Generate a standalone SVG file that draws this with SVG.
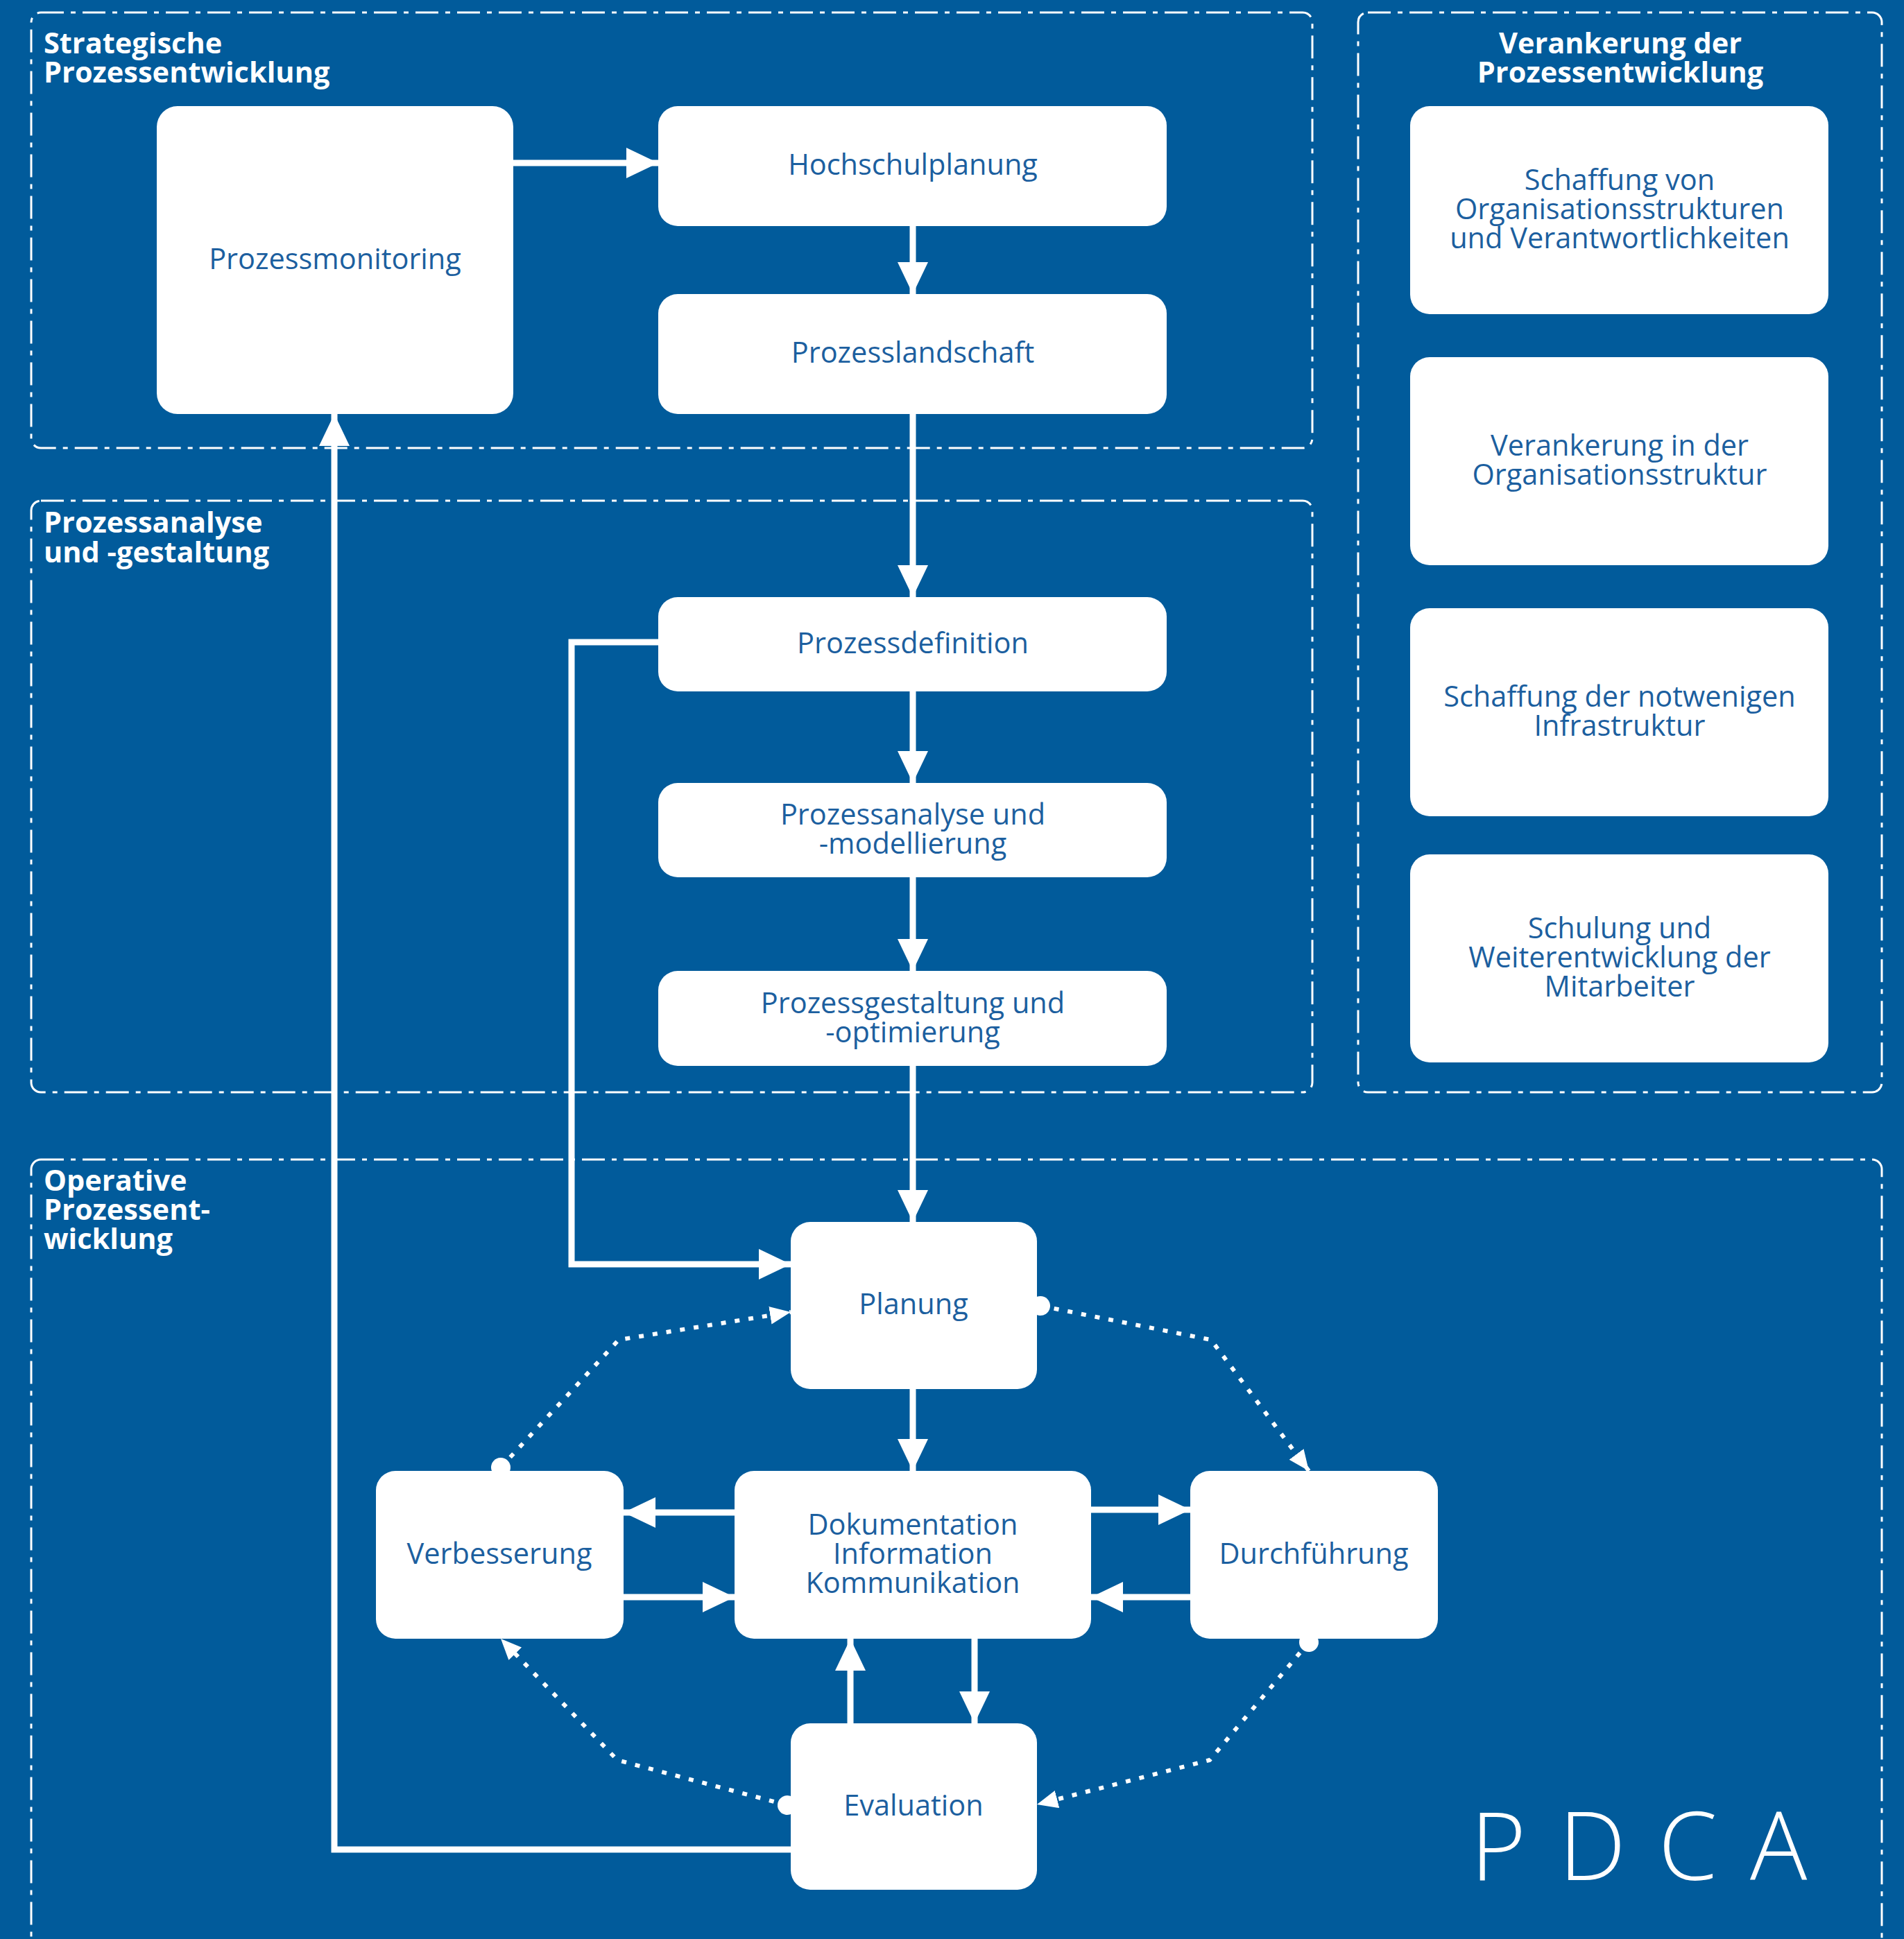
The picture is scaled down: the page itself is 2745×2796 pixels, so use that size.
<svg xmlns="http://www.w3.org/2000/svg" width="2745" height="2796" viewBox="0 0 2745 2796">
<defs>
<style>
.bg{fill:#015B9B}
.grp{fill:none;stroke:#fff;stroke-width:3;stroke-dasharray:33 10 7 10}
.title{font-family:"Open Sans","DejaVu Sans",sans-serif;font-weight:700;font-size:41.5px;fill:#fff}
.box{fill:#fff}
.lbl{font-family:"Open Sans","DejaVu Sans",sans-serif;font-size:41.5px;fill:#1C5F9F;text-anchor:middle}
.con{fill:none;stroke:#fff;stroke-width:9;marker-end:url(#arr)}
.dot{fill:none;stroke:#fff;stroke-width:6;stroke-dasharray:7 13;stroke-linejoin:round;marker-start:url(#circ);marker-end:url(#arrs)}
.pdca{font-family:"Open Sans","DejaVu Sans",sans-serif;font-weight:300;font-size:137px;fill:#fff;letter-spacing:47px}
</style>
<marker id="arr" markerUnits="userSpaceOnUse" viewBox="0 0 46 44" refX="46" refY="22" markerWidth="46" markerHeight="44" orient="auto">
<path d="M0,0 L46,22 L0,44 Z" fill="#fff"/>
</marker>
<marker id="arrs" markerUnits="userSpaceOnUse" viewBox="0 0 30 26" refX="30" refY="13" markerWidth="30" markerHeight="26" orient="auto">
<path d="M0,0 L30,13 L0,26 Z" fill="#fff"/>
</marker>
<marker id="circ" markerUnits="userSpaceOnUse" viewBox="0 0 30 30" refX="15" refY="15" markerWidth="30" markerHeight="30" orient="auto">
<circle cx="15" cy="15" r="14" fill="#fff"/>
</marker>
</defs>
<rect class="bg" x="0" y="0" width="2745" height="2796"/>

<g id="groups">
<g id="grp-strategisch">
<rect class="grp" x="45" y="18" width="1847" height="628" rx="14"/>
<text class="title" x="63" y="77">Strategische</text>
<text class="title" x="63" y="119">Prozessentwicklung</text>
</g>
<g id="grp-analyse">
<rect class="grp" x="45" y="722" width="1847" height="853" rx="14"/>
<text class="title" x="63" y="768">Prozessanalyse</text>
<text class="title" x="63" y="811">und -gestaltung</text>
</g>
<g id="grp-verankerung">
<rect class="grp" x="1958" y="18" width="755" height="1557" rx="14"/>
<text class="title" x="2336" y="77" text-anchor="middle">Verankerung der</text>
<text class="title" x="2336" y="119" text-anchor="middle">Prozessentwicklung</text>
</g>
<g id="grp-operativ">
<rect class="grp" x="45" y="1672" width="2668" height="1200" rx="14"/>
<text class="title" x="63" y="1717">Operative</text>
<text class="title" x="63" y="1759">Prozessent-</text>
<text class="title" x="63" y="1801">wicklung</text>
</g>
</g>

<g id="connectors">
<path class="con" d="M740,235 L949,235"/>
<path class="con" d="M1316,326 L1316,424"/>
<path class="con" d="M1316,597 L1316,861"/>
<path class="con" d="M1316,997 L1316,1129"/>
<path class="con" d="M1316,1265 L1316,1400"/>
<path class="con" d="M1316,1537 L1316,1762"/>
<path class="con" d="M949,926 L824,926 L824,1823 L1140,1823"/>
<path class="con" d="M1140,2667 L482,2667 L482,597"/>
<path class="con" d="M1316,2003 L1316,2121"/>
<path class="con" d="M1059,2181 L899,2181"/>
<path class="con" d="M899,2303 L1059,2303"/>
<path class="con" d="M1573,2177 L1716,2177"/>
<path class="con" d="M1716,2303 L1573,2303"/>
<path class="con" d="M1226,2485 L1226,2363"/>
<path class="con" d="M1405,2363 L1405,2485"/>
<path class="dot" d="M1500,1883 L1746,1932 L1887,2121"/>
<path class="dot" d="M1887,2368 L1744,2538 L1495,2602"/>
<path class="dot" d="M1135,2603 L890,2538 L722,2363"/>
<path class="dot" d="M722,2116 L892,1932 L1140,1892"/>
</g>

<g id="n-prozessmonitoring"><rect class="box" x="226" y="153" width="514" height="444" rx="30"/><text class="lbl" x="483" y="388">Prozessmonitoring</text></g>
<g id="n-hochschulplanung"><rect class="box" x="949" y="153" width="733" height="173" rx="28"/><text class="lbl" x="1316" y="252">Hochschulplanung</text></g>
<g id="n-prozesslandschaft"><rect class="box" x="949" y="424" width="733" height="173" rx="28"/><text class="lbl" x="1316" y="523">Prozesslandschaft</text></g>
<g id="n-prozessdefinition"><rect class="box" x="949" y="861" width="733" height="136" rx="28"/><text class="lbl" x="1316" y="942">Prozessdefinition</text></g>
<g id="n-prozessanalyse"><rect class="box" x="949" y="1129" width="733" height="136" rx="28"/><text class="lbl" x="1316" y="1189">Prozessanalyse und</text><text class="lbl" x="1316" y="1231">-modellierung</text></g>
<g id="n-prozessgestaltung"><rect class="box" x="949" y="1400" width="733" height="137" rx="28"/><text class="lbl" x="1316" y="1461">Prozessgestaltung und</text><text class="lbl" x="1316" y="1503">-optimierung</text></g>
<g id="n-planung"><rect class="box" x="1140" y="1762" width="355" height="241" rx="28"/><text class="lbl" x="1317" y="1895">Planung</text></g>
<g id="n-dokumentation"><rect class="box" x="1059" y="2121" width="514" height="242" rx="28"/><text class="lbl" x="1316" y="2213">Dokumentation</text><text class="lbl" x="1316" y="2255">Information</text><text class="lbl" x="1316" y="2297">Kommunikation</text></g>
<g id="n-verbesserung"><rect class="box" x="542" y="2121" width="357" height="242" rx="28"/><text class="lbl" x="720" y="2255">Verbesserung</text></g>
<g id="n-durchfuehrung"><rect class="box" x="1716" y="2121" width="357" height="242" rx="28"/><text class="lbl" x="1894" y="2255">Durchführung</text></g>
<g id="n-evaluation"><rect class="box" x="1140" y="2485" width="355" height="240" rx="28"/><text class="lbl" x="1317" y="2618">Evaluation</text></g>

<g id="n-schaffung-org"><rect class="box" x="2033" y="153" width="603" height="300" rx="28"/><text class="lbl" x="2335" y="274">Schaffung von</text><text class="lbl" x="2335" y="316">Organisationsstrukturen</text><text class="lbl" x="2335" y="358">und Verantwortlichkeiten</text></g>
<g id="n-verankerung-org"><rect class="box" x="2033" y="515" width="603" height="300" rx="28"/><text class="lbl" x="2335" y="657">Verankerung in der</text><text class="lbl" x="2335" y="699">Organisationsstruktur</text></g>
<g id="n-infrastruktur"><rect class="box" x="2033" y="877" width="603" height="300" rx="28"/><text class="lbl" x="2335" y="1019">Schaffung der notwenigen</text><text class="lbl" x="2335" y="1061">Infrastruktur</text></g>
<g id="n-schulung"><rect class="box" x="2033" y="1232" width="603" height="300" rx="28"/><text class="lbl" x="2335" y="1353">Schulung und</text><text class="lbl" x="2335" y="1395">Weiterentwicklung der</text><text class="lbl" x="2335" y="1437">Mitarbeiter</text></g>

<text class="pdca" x="2120" y="2711">PDCA</text>
</svg>
